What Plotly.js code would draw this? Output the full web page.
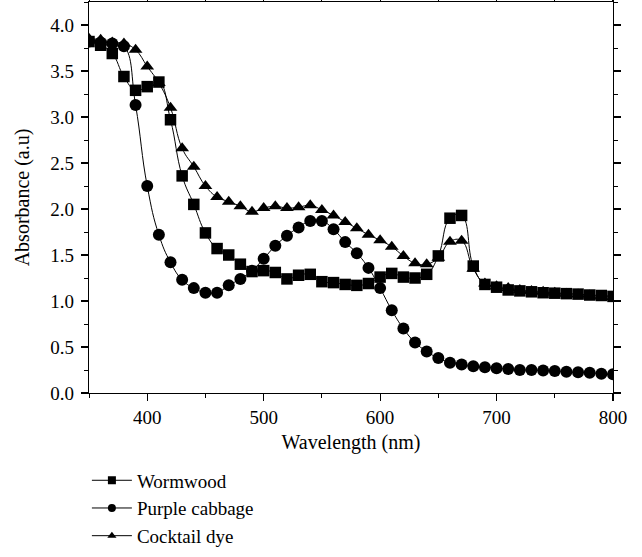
<!DOCTYPE html>
<html>
<head>
<meta charset="utf-8">
<script src="https://cdn.plot.ly/plotly-3.0.1.min.js"></script>
<style>html,body{margin:0;padding:0;background:#fff;}#chart{width:642px;height:557px;}</style>
</head>
<body>
<div id="chart"></div>
<script>
var wavelength = [350,360,370,380,390,400,410,420,430,440,450,460,470,480,490,500,510,520,530,540,550,560,570,580,590,600,610,620,630,640,650,660,670,680,690,700,710,720,730,740,750,760,770,780,790,800];

var wormwood = [3.82,3.78,3.69,3.44,3.29,3.33,3.38,2.97,2.36,2.05,1.74,1.57,1.50,1.40,1.32,1.33,1.31,1.24,1.28,1.29,1.21,1.20,1.18,1.17,1.19,1.26,1.30,1.26,1.25,1.29,1.49,1.90,1.93,1.38,1.18,1.15,1.12,1.11,1.10,1.09,1.085,1.08,1.075,1.065,1.06,1.05];

var purpleCabbage = [3.82,3.81,3.80,3.77,3.13,2.25,1.72,1.42,1.23,1.14,1.09,1.09,1.17,1.24,1.33,1.46,1.60,1.71,1.80,1.87,1.87,1.78,1.64,1.52,1.36,1.14,0.90,0.70,0.55,0.45,0.38,0.33,0.31,0.29,0.28,0.27,0.26,0.25,0.25,0.245,0.24,0.23,0.225,0.22,0.21,0.205];

var cocktailDye = [3.85,3.84,3.81,3.80,3.73,3.55,3.37,3.10,2.66,2.46,2.25,2.13,2.08,2.03,1.97,2.01,2.03,2.01,2.02,2.04,1.99,1.93,1.86,1.79,1.72,1.66,1.59,1.49,1.41,1.40,1.47,1.645,1.655,1.35,1.19,1.16,1.14,1.12,1.11,1.10,1.09,1.08,1.07,1.06,1.05,1.04];

var seriesNames = ["Wormwood", "Purple cabbage", "Cocktail dye"];
var symbols = ["square", "circle", "triangle-up"];

var FONT = "Liberation Serif";

function trace(name, y, symbol, size) {
  return {
    x: wavelength, y: y, name: name, type: "scatter", mode: "lines+markers",
    line: {color: "#000", width: 1, shape: "spline", smoothing: 1.3},
    marker: {color: "#000", symbol: symbol, size: size, line: {width: 0}},
    showlegend: false, hoverinfo: "skip"
  };
}
function legendEntry(name, symbol, rank) {
  return {
    x: [null], y: [null], name: name, type: "scatter", mode: "lines+markers",
    line: {color: "#000", width: 1},
    marker: {color: "#000", symbol: symbol, size: 8, line: {width: 0}},
    legendrank: rank, showlegend: true
  };
}

var data = [
  trace(seriesNames[2], cocktailDye, symbols[2], 12),
  trace(seriesNames[1], purpleCabbage, symbols[1], 12),
  trace(seriesNames[0], wormwood, symbols[0], 11.5),
  legendEntry(seriesNames[0], symbols[0], 1),
  legendEntry(seriesNames[1], symbols[1], 2),
  legendEntry(seriesNames[2], symbols[2], 3)
];

var layout = {
  width: 642, height: 557,
  margin: {l: 89, r: 29, t: 2, b: 164, autoexpand: false},
  paper_bgcolor: "#fff", plot_bgcolor: "#fff",
  font: {family: FONT, size: 19, color: "#000"},
  showlegend: true,
  legend: {
    x: -0.004, xanchor: "left", y: -0.175, yanchor: "top",
    orientation: "v", traceorder: "normal",
    font: {family: FONT, size: 19, color: "#000"},
    bgcolor: "rgba(0,0,0,0)", itemwidth: 40
  },
  xaxis: {
    range: [350, 800], tick0: 400, dtick: 100,
    ticks: "outside", ticklen: 7, tickwidth: 1.2, tickcolor: "#000",
    minor: {dtick: 50, ticks: "outside", ticklen: 4, tickcolor: "#000", tickwidth: 1},
    showline: true, linecolor: "#000", linewidth: 1.2, mirror: "ticks",
    showgrid: false, zeroline: false, automargin: false,
    tickfont: {family: FONT, size: 19, color: "#000"},
    title: {text: "Wavelength (nm)", font: {family: FONT, size: 20, color: "#000"}, standoff: 8}
  },
  yaxis: {
    range: [0, 4.25], tick0: 0, dtick: 0.5, tickformat: ".1f",
    ticks: "outside", ticklen: 7, tickwidth: 1.2, tickcolor: "#000",
    minor: {dtick: 0.25, ticks: "outside", ticklen: 4, tickcolor: "#000", tickwidth: 1},
    showline: true, linecolor: "#000", linewidth: 1.2, mirror: "ticks",
    showgrid: false, zeroline: false, automargin: false,
    ticklabelstandoff: 3,
    tickfont: {family: FONT, size: 19, color: "#000"},
    title: {text: "Absorbance (a.u)", font: {family: FONT, size: 20, color: "#000"}, standoff: 15}
  }
};

Plotly.newPlot("chart", data, layout, {displayModeBar: false, staticPlot: true});
</script>
</body>
</html>
